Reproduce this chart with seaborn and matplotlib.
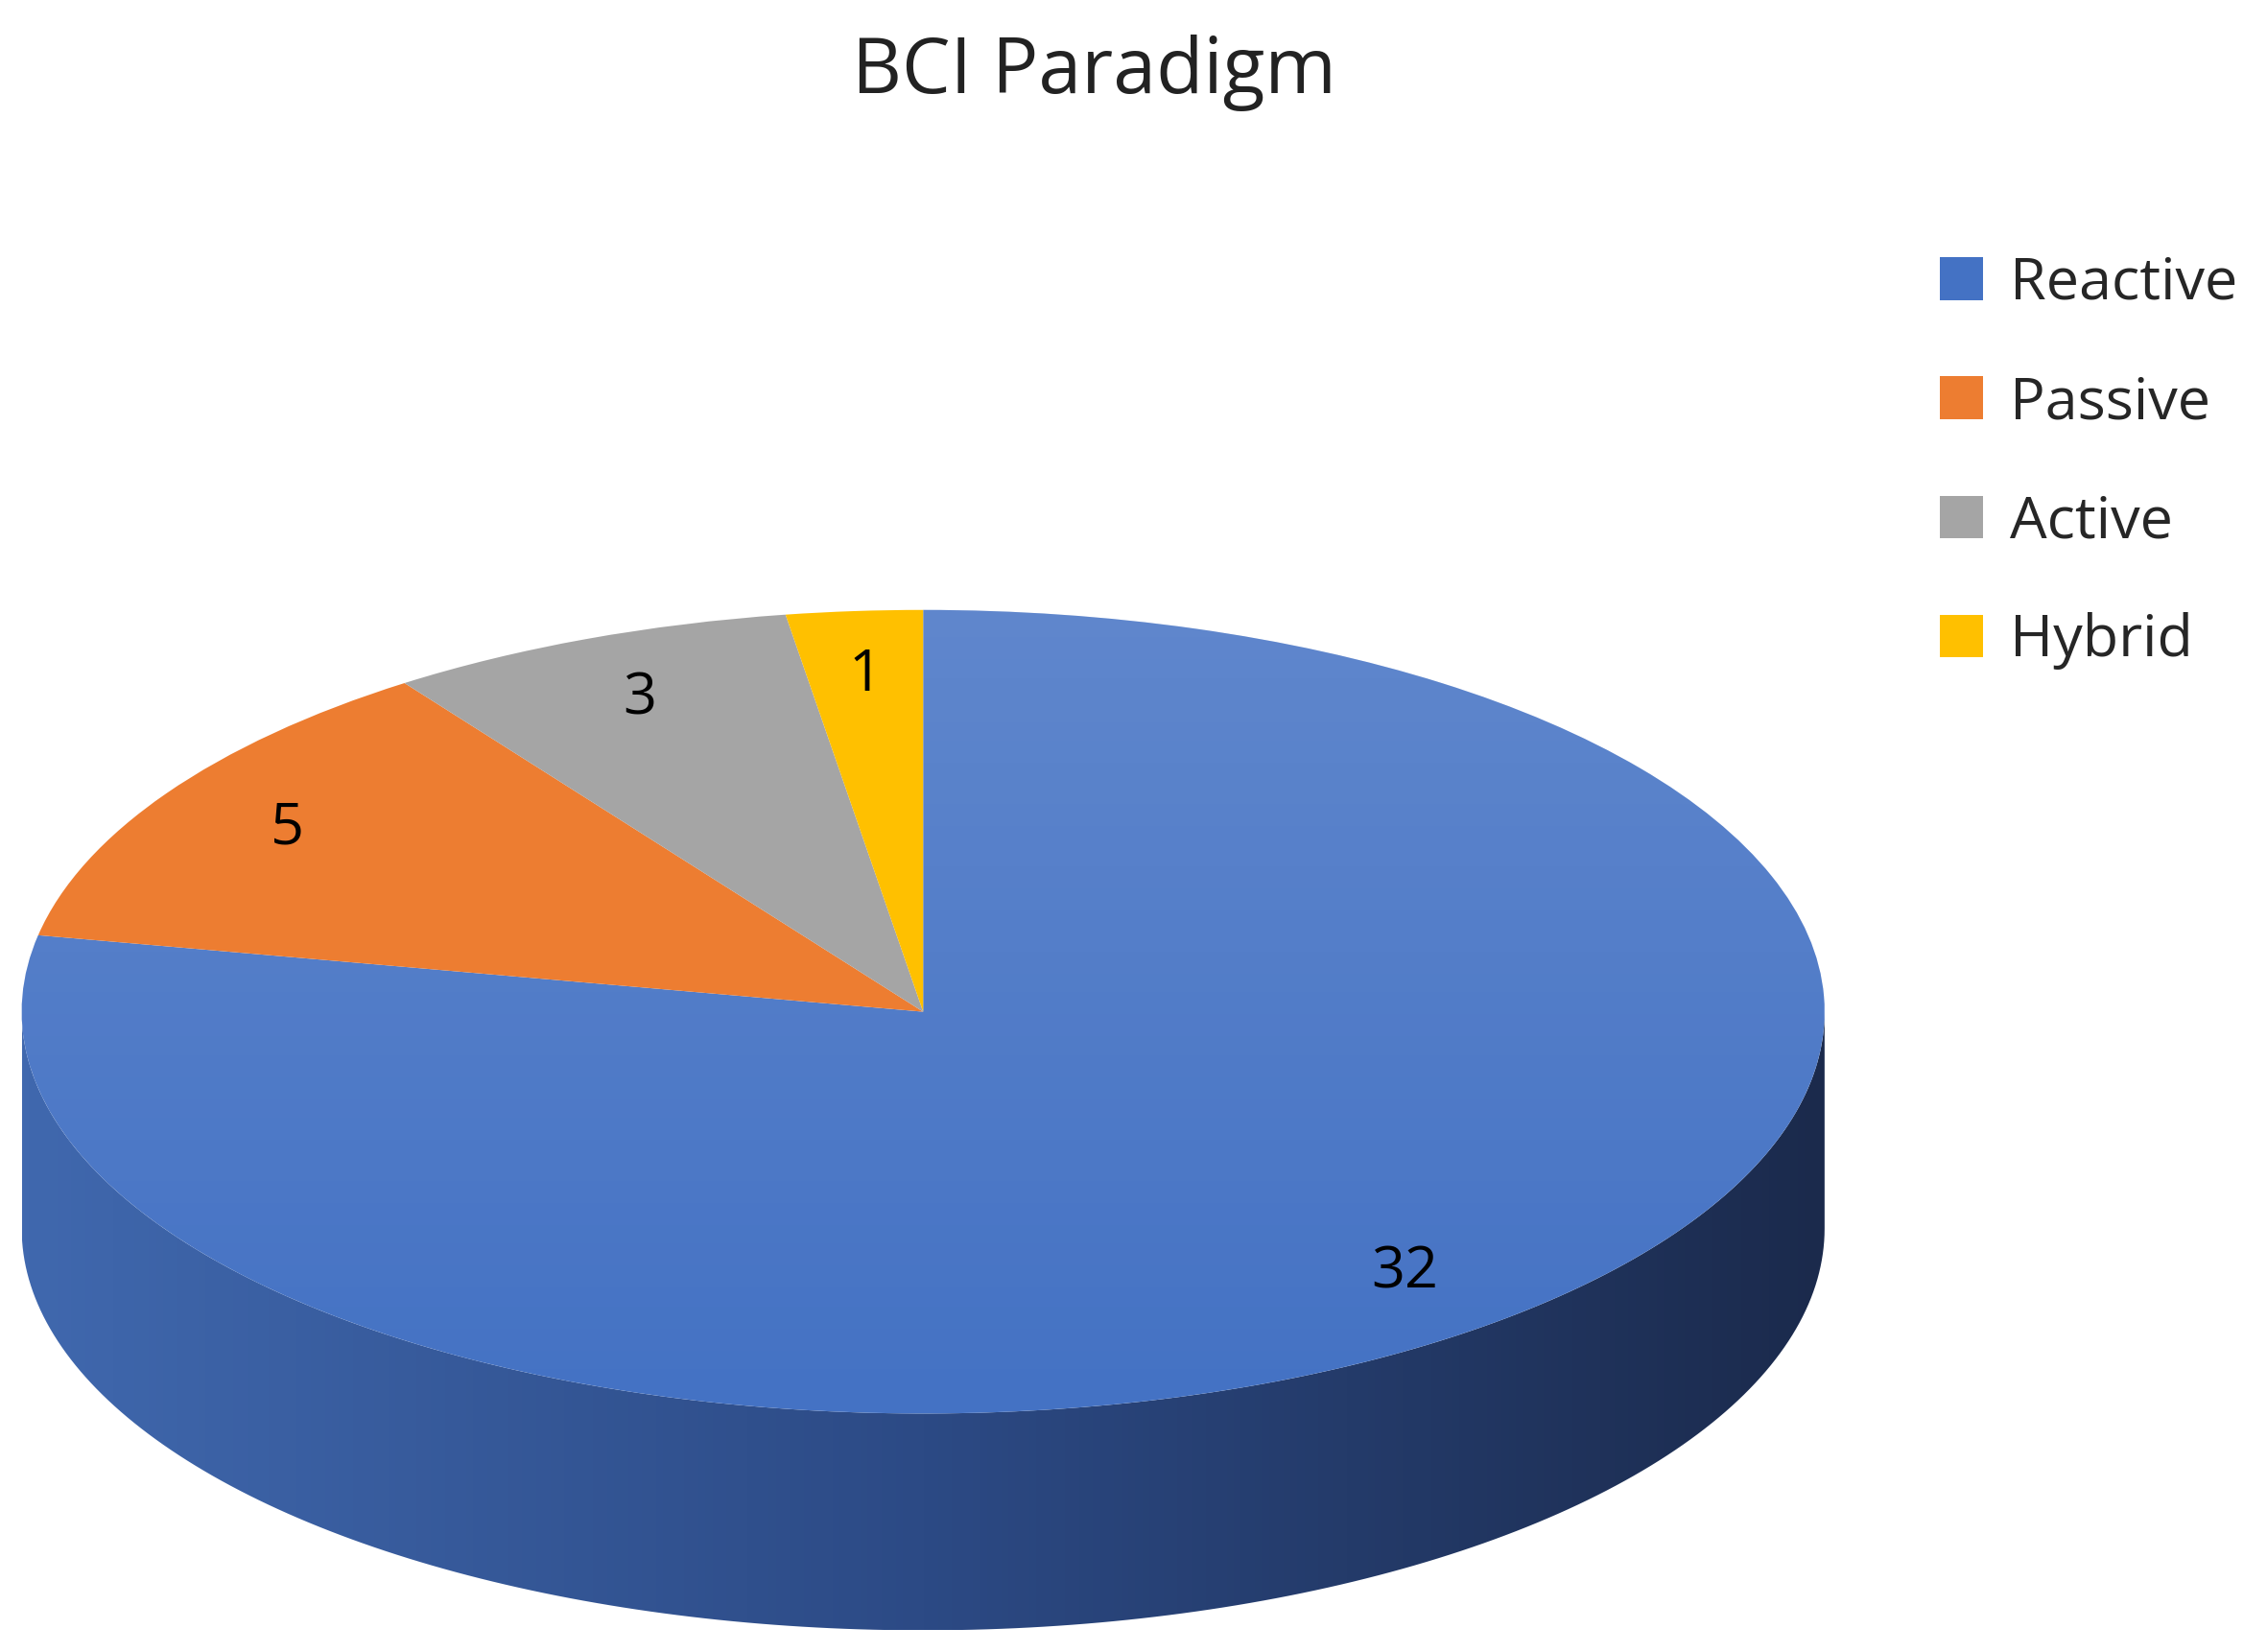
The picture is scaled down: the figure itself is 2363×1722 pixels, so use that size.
import numpy as np
import matplotlib
matplotlib.use("Agg")
import matplotlib.pyplot as plt
import seaborn as sns
from matplotlib.patches import Polygon

sns.set_theme(style="white")
plt.rcParams['font.family'] = ['Open Sans', 'DejaVu Sans']

# data
paradigms = ["Reactive", "Passive", "Active", "Hybrid"]
counts = [32, 5, 3, 1]
colors = ["#4472C4", "#ED7D31", "#A5A5A5", "#FFC000"]
total = sum(counts)

W, H = 1568, 1143  # reference layout units
fig = plt.figure(figsize=(23.63, 17.22), dpi=100)
fig.patch.set_facecolor("white")

# pie ellipse box (top face) + depth of the side
left, right, top, bot = 15, 1262, 422, 978
depth = 150
d = depth / ((bot - top) / 2)
ax = fig.add_axes([left / W, 1 - (bot + depth) / H, (right - left) / W, (bot - top + depth) / H])
ax.set_xlim(-1, 1)
ax.set_ylim(-1 - d, 1)
ax.axis("off")

# side band of the cylinder
t = np.linspace(np.pi, 2 * np.pi, 200)
xs, ys = np.cos(t), np.sin(t)
side = Polygon(np.column_stack([np.r_[xs, xs[::-1]], np.r_[ys - d, ys[::-1]]]),
               closed=True, facecolor="none", edgecolor="none")
ax.add_patch(side)
grad = np.linspace(0, 1, 256).reshape(1, -1)
cmap = matplotlib.colors.LinearSegmentedColormap.from_list("side", ["#4068AE", "#2C4A85", "#1B2A4C"])
img = ax.imshow(grad, extent=[-1, 1, -1 - d, 0], cmap=cmap, aspect="auto", zorder=1)
img.set_clip_path(side)

wedges, texts, autotexts = ax.pie(
    counts, colors=colors, startangle=90, counterclock=False,
    autopct=lambda p: f"{round(p * total / 100)}", pctdistance=0.84,
    wedgeprops=dict(linewidth=0), textprops=dict(fontsize=44, color="black"),
    frame=True)
ax.set_xlim(-1, 1)
ax.set_ylim(-1 - d, 1)
ax.set_aspect("auto")
ax.axis("off")
for w in wedges:
    w.set_zorder(2)
for a in autotexts:
    a.set_zorder(3)

# subtle light overlay on top face
gl = np.linspace(1, 0, 256).reshape(-1, 1)
ov = ax.imshow(gl, extent=[-1, 1, -1, 1], cmap=matplotlib.colors.LinearSegmentedColormap.from_list(
    "ov", [(1, 1, 1, 0), (1, 1, 1, 0.15)]), aspect="auto", zorder=2.5)
ov.set_clip_path(wedges[0])

fig.text(757 / W, 1 - 50 / H, "BCI Paradigm", ha="center", va="center", fontsize=58, color="#222222")

fig.legend(wedges, paradigms, loc="upper left", bbox_to_anchor=(1305 / W, 1 - 140 / H),
           frameon=False, fontsize=44, labelspacing=1.05, handlelength=0.75, handleheight=0.75,
           handletextpad=0.45)

fig.savefig("out.png", dpi=100, facecolor="white")
